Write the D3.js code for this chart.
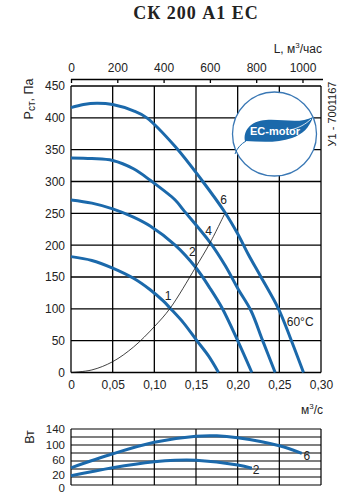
<!DOCTYPE html>
<html>
<head>
<meta charset="utf-8">
<script src="https://cdn.jsdelivr.net/npm/d3@7"></script>
<style>
  body { margin: 0; background: #fff; }
  svg text { font-family: "Liberation Sans", Arial, sans-serif; fill: #222; }
</style>
</head>
<body>
<div id="chart"></div>
<script>
// axis ticks
var flowTicks = [0, 0.05, 0.10, 0.15, 0.20, 0.25, 0.30];
var pressureTicks = [0, 50, 100, 150, 200, 250, 300, 350, 400, 450];
var hourTicks = [0, 200, 400, 600, 800, 1000];
var powerGrid = [0, 20, 40, 60, 80, 100, 120, 140];
var powerLabels = [0, 20, 60, 100, 140];

// fan curves, Q in m3/s, P in Pa
var q1 = [0, 0.025, 0.05, 0.075, 0.095, 0.111, 0.119, 0.135, 0.151, 0.165, 0.177];
var p1 = [182, 176, 164, 148, 130, 112, 101, 78, 50, 26, 0];
var q2 = [0, 0.025, 0.05, 0.075, 0.095, 0.125, 0.149, 0.167, 0.181, 0.2, 0.217];
var p2 = [271, 266, 257, 244, 230, 200, 166, 132, 102, 50, 0];
var q4 = [0, 0.025, 0.05, 0.075, 0.095, 0.125, 0.135, 0.167, 0.185, 0.201, 0.216, 0.23, 0.245];
var p4 = [337, 336, 333, 320, 302, 271, 255, 204, 168, 130, 97, 50, 0];
var q6 = [0, 0.015, 0.031, 0.05, 0.075, 0.091, 0.125, 0.157, 0.185, 0.2, 0.213, 0.228, 0.249, 0.263, 0.279];
var p6 = [416, 421, 423, 421, 411, 400, 355, 302, 251, 218, 185, 150, 100, 55, 0];

// system line
var qSys = [0, 0.025, 0.05, 0.075, 0.10, 0.119, 0.149, 0.167, 0.185];
var pSys = [0, 4, 17, 40, 72, 101, 164, 204, 251];

// curve labels on the system line
var curveNames = ["1", "2", "4", "6"];
var nameQ = [0.1165, 0.1456, 0.165, 0.183];
var nameP = [120, 189, 223, 272];

// power, W
var qW6 = [0, 0.05, 0.10, 0.15, 0.175, 0.20, 0.25, 0.277];
var w6 = [43, 78, 107, 122, 123, 118, 98, 79];
var qW2 = [0, 0.05, 0.10, 0.125, 0.15, 0.20, 0.217];
var w2 = [23, 43, 58, 62, 62, 50, 42];

function draw() {
var blue = "#1b69ab";
var svgW = 349, svgH = 504;
var mLeft = 71, mRight = 321, mTop = 86, mBottom = 372.5;
var pTop = 429, pBottom = 485;

var svg = d3.select("#chart").append("svg")
  .attr("width", svgW).attr("height", svgH);

var x = d3.scaleLinear().domain([0, 0.30]).range([mLeft, mRight]);
var y = d3.scaleLinear().domain([0, 450]).range([mBottom, mTop]);
var xL = d3.scaleLinear().domain([0, 1080]).range([mLeft, mRight]);
var yW = d3.scaleLinear().domain([0, 140]).range([pBottom, pTop]);

var comma = function(d) { return d === 0 ? "0" : d3.format(".2f")(d).replace(".", ","); };

// title
svg.append("text")
  .attr("x", 196).attr("y", 19)
  .attr("text-anchor", "middle")
  .style("font-family", "'Liberation Serif', serif")
  .style("font-weight", "bold")
  .style("font-size", "18px")
  .style("letter-spacing", "1px")
  .text("СК 200 А1 ЕС");

// --- main chart grid
var main = svg.append("g");
main.selectAll("line.v").data(flowTicks).enter().append("line")
  .attr("x1", d => x(d)).attr("x2", d => x(d))
  .attr("y1", mTop).attr("y2", mBottom)
  .attr("stroke", "#000").attr("stroke-width", 1.3);
main.selectAll("line.h").data(pressureTicks).enter().append("line")
  .attr("x1", mLeft).attr("x2", mRight)
  .attr("y1", d => y(d)).attr("y2", d => y(d))
  .attr("stroke", "#000").attr("stroke-width", 1.3);

// bottom axis labels
var bottomAxis = d3.axisBottom(x).tickValues(flowTicks).tickSize(0).tickPadding(8).tickFormat(comma);
main.append("g").attr("transform", `translate(0, ${mBottom})`).call(bottomAxis)
  .call(g => g.select(".domain").remove())
  .selectAll("text").style("font-size", "12px").style("font-family", "'Liberation Sans', sans-serif").attr("fill", "#222");

var leftAxis = d3.axisLeft(y).tickValues(pressureTicks).tickSize(0).tickPadding(6);
main.append("g").attr("transform", `translate(${mLeft}, 0)`).call(leftAxis)
  .call(g => g.select(".domain").remove())
  .selectAll("text").style("font-size", "12px").style("font-family", "'Liberation Sans', sans-serif").attr("fill", "#222");

// top axis m3/h
var topAxis = d3.axisTop(xL).tickValues(hourTicks).tickSize(-4).tickPadding(5).tickFormat(d3.format("d"));
main.append("g").attr("transform", `translate(0, 79)`).call(topAxis)
  .call(g => g.select(".domain").attr("d", `M${mLeft},0.5H${mRight + 2}`).attr("stroke-width", 1.3))
  .call(g => g.selectAll(".tick line").attr("stroke-width", 1.3).attr("y1", 0).attr("y2", 4))
  .selectAll("text").style("font-size", "12px").style("font-family", "'Liberation Sans', sans-serif").attr("fill", "#222").attr("y", -7);

svg.append("text").attr("x", 322).attr("y", 53).attr("text-anchor", "end")
  .style("font-size", "12px")
  .html('L, м<tspan dy="-5" font-size="8">3</tspan><tspan dy="5">/час</tspan>');

// y label
svg.append("text").attr("transform", "translate(33, 99) rotate(-90)")
  .attr("text-anchor", "middle").style("font-size", "12.5px")
  .html('Р<tspan dy="2" font-size="10">ст</tspan><tspan dy="-2">, Па</tspan>');

// side code
svg.append("text").attr("transform", "translate(336, 114) rotate(-90)")
  .attr("text-anchor", "middle").style("font-size", "11px")
  .text("У1 - 7001167");

// logo
var logo = svg.append("g");
logo.append("circle").attr("cx", 274.5).attr("cy", 134).attr("r", 42)
  .attr("fill", "#fff").attr("stroke", "#3a78b5").attr("stroke-width", 1.3);
logo.append("path")
  .attr("d", "M245,141 C243,131 250,121 266,120 C284,119 300,124 313,117 C309,128 303,134 292,138 C278,143 262,142 245,141 Z")
  .attr("fill", blue);
logo.append("path")
  .attr("d", "M246,141 C241,144 237,148 235,154")
  .attr("fill", "none").attr("stroke", blue).attr("stroke-width", 1);
logo.append("path")
  .attr("d", "M290,130 C299,128 306,124 311,119")
  .attr("fill", "none").attr("stroke", "#fff").attr("stroke-width", 0.8);
logo.append("text").attr("x", 275).attr("y", 134.5).attr("text-anchor", "middle")
  .style("font-size", "11px").style("font-weight", "bold")
  .style("fill", "#fff")
  .text("EC-motor");

// curves
var line = d3.line().x(d => x(d[0])).y(d => y(d[1])).curve(d3.curveCatmullRom.alpha(0.5));
var fanCurves = [d3.zip(q1, p1), d3.zip(q2, p2), d3.zip(q4, p4), d3.zip(q6, p6)];
main.selectAll("path.fan").data(fanCurves).enter().append("path")
  .attr("d", line).attr("fill", "none").attr("stroke", blue).attr("stroke-width", 3);

main.append("path").datum(d3.zip(qSys, pSys))
  .attr("d", line).attr("fill", "none").attr("stroke", "#111").attr("stroke-width", 0.8);

main.selectAll("text.name").data(curveNames).enter().append("text")
  .attr("x", (d, i) => x(nameQ[i])).attr("y", (d, i) => y(nameP[i]))
  .attr("text-anchor", "middle").attr("dy", "0.35em")
  .style("font-size", "12px").text(d => d);

main.append("text").attr("x", x(0.275)).attr("y", y(80)).attr("dy", "0.35em")
  .attr("text-anchor", "middle").style("font-size", "12px").text("60°C");

// --- power chart
var pw = svg.append("g");
pw.selectAll("line.v").data(flowTicks).enter().append("line")
  .attr("x1", d => x(d)).attr("x2", d => x(d))
  .attr("y1", pTop).attr("y2", pBottom)
  .attr("stroke", "#000").attr("stroke-width", 1.2);
pw.selectAll("line.h").data(powerGrid).enter().append("line")
  .attr("x1", mLeft).attr("x2", mRight)
  .attr("y1", d => yW(d)).attr("y2", d => yW(d))
  .attr("stroke", "#000").attr("stroke-width", 1.2);

var nudge = {0: 2.5, 20: -2.5, 60: -1, 100: 0, 140: 0};
pw.selectAll("text.tick").data(powerLabels).enter().append("text")
  .attr("x", 65).attr("y", d => yW(d) + nudge[d]).attr("dy", "0.35em")
  .attr("text-anchor", "end").style("font-size", "11.5px").text(d => d);

svg.append("text").attr("transform", "translate(34, 437) rotate(-90)")
  .attr("text-anchor", "middle").style("font-size", "12.5px").text("Вт");

svg.append("text").attr("x", 323).attr("y", 414).attr("text-anchor", "end")
  .style("font-size", "12px")
  .html('м<tspan dy="-5" font-size="8">3</tspan><tspan dy="5">/с</tspan>');

var lineW = d3.line().x(d => x(d[0])).y(d => yW(d[1])).curve(d3.curveCatmullRom.alpha(0.5));
pw.selectAll("path.pw").data([d3.zip(qW6, w6), d3.zip(qW2, w2)]).enter().append("path")
  .attr("d", lineW).attr("fill", "none").attr("stroke", blue).attr("stroke-width", 3);

pw.append("text").attr("x", x(0.283)).attr("y", yW(73)).attr("dy", "0.35em")
  .attr("text-anchor", "middle").style("font-size", "12px").text("6");
pw.append("text").attr("x", x(0.222)).attr("y", yW(37.5)).attr("dy", "0.35em")
  .attr("text-anchor", "middle").style("font-size", "12px").text("2");
}
draw();
</script>
</body>
</html>
